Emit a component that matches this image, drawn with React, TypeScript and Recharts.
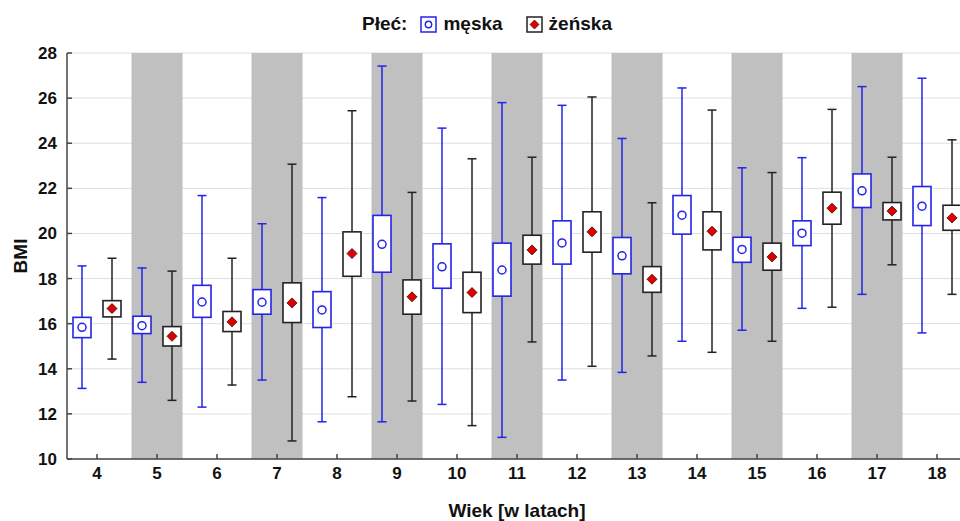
import React from 'react';
import { ComposedChart, Bar, XAxis, YAxis, CartesianGrid, ReferenceArea } from 'recharts';

const ages = [4, 5, 6, 7, 8, 9, 10, 11, 12, 13, 14, 15, 16, 17, 18];

// chłopcy (męska)
const maleMin = [13.13, 13.4, 12.3, 13.5, 11.65, 11.65, 12.42, 10.96, 13.5, 13.84, 15.22, 15.71, 16.68, 17.3, 15.59];
const maleQ1 = [15.38, 15.56, 16.28, 16.42, 15.83, 18.28, 17.57, 17.22, 18.64, 18.21, 19.97, 18.72, 19.46, 21.15, 20.35];
const maleMean = [15.84, 15.91, 16.96, 16.95, 16.61, 19.52, 18.52, 18.38, 19.58, 19.01, 20.81, 19.29, 20.01, 21.89, 21.21];
const maleQ3 = [16.28, 16.33, 17.7, 17.51, 17.42, 20.8, 19.54, 19.57, 20.56, 19.82, 21.68, 19.83, 20.56, 22.64, 22.08];
const maleMax = [18.56, 18.47, 21.68, 20.43, 21.59, 27.42, 24.67, 25.8, 25.68, 24.21, 26.45, 22.91, 23.36, 26.51, 26.88];

// dziewczęta (żeńska)
const femMin = [14.43, 12.6, 13.28, 10.8, 12.76, 12.57, 11.48, 15.19, 14.11, 14.57, 14.73, 15.22, 16.73, 18.61, 17.3];
const femQ1 = [16.3, 15.01, 15.65, 16.05, 18.1, 16.42, 16.49, 18.64, 19.17, 17.39, 19.27, 18.37, 20.41, 20.6, 20.14];
const femMean = [16.67, 15.44, 16.08, 16.92, 19.11, 17.19, 17.38, 19.27, 20.07, 17.97, 20.1, 18.96, 21.12, 20.99, 20.69];
const femQ3 = [17.02, 15.87, 16.54, 17.81, 20.07, 17.94, 18.28, 19.92, 20.96, 18.53, 20.96, 19.57, 21.83, 21.37, 21.25];
const femMax = [18.9, 18.33, 18.9, 23.07, 25.44, 21.82, 23.31, 23.38, 26.05, 21.36, 25.47, 22.7, 25.5, 23.38, 24.15];

const shadedAges = [5, 7, 9, 11, 13, 15, 17];
const yTicks = [10, 12, 14, 16, 18, 20, 22, 24, 26, 28];

const data = ages.map((age, i) => ({
  age: String(age),
  ageNum: age,
  m: [maleMin[i], maleMax[i]],
  f: [femMin[i], femMax[i]],
  mQ1: maleQ1[i], mQ3: maleQ3[i], mMean: maleMean[i],
  fQ1: femQ1[i], fQ3: femQ3[i], fMean: femMean[i],
}));

const BLUE = '#2323ea';
const DARK = '#222';
const FONT = "'Liberation Sans', Arial, sans-serif";

const BoxShape = (props: any) => {
  const { x, y, width, height, payload, kind } = props;
  if (height == null || !payload) return null;
  const lo = kind === 'm' ? payload.m[0] : payload.f[0];
  const hi = kind === 'm' ? payload.m[1] : payload.f[1];
  const q1 = kind === 'm' ? payload.mQ1 : payload.fQ1;
  const q3 = kind === 'm' ? payload.mQ3 : payload.fQ3;
  const mean = kind === 'm' ? payload.mMean : payload.fMean;
  const py = (v: number) => y + (height * (hi - v)) / (hi - lo);
  const cx = x + width / 2;
  const color = kind === 'm' ? BLUE : DARK;
  const cap = 4.5;
  return (
    <g>
      <line x1={cx} x2={cx} y1={y} y2={y + height} stroke={color} strokeWidth={1.5} />
      <line x1={cx - cap} x2={cx + cap} y1={y} y2={y} stroke={color} strokeWidth={1.5} />
      <line x1={cx - cap} x2={cx + cap} y1={y + height} y2={y + height} stroke={color} strokeWidth={1.5} />
      <rect x={x} y={py(q3)} width={width} height={py(q1) - py(q3)} fill="#fff" stroke={color} strokeWidth={1.6} />
      {kind === 'm' ? (
        <circle cx={cx} cy={py(mean)} r={4} fill="#fff" stroke={BLUE} strokeWidth={1.5} />
      ) : (
        <path
          d={`M${cx},${py(mean) - 5} L${cx + 5},${py(mean)} L${cx},${py(mean) + 5} L${cx - 5},${py(mean)} Z`}
          fill="#e00000"
          stroke="#400"
          strokeWidth={0.8}
        />
      )}
    </g>
  );
};

const YLabel = (props: any) => {
  const vb = props.viewBox || {};
  const cy = (vb.y || 0) + (vb.height || 0) / 2;
  return (
    <text x={27} y={cy} transform={`rotate(-90, 27, ${cy})`} textAnchor="middle" fontFamily={FONT} fontWeight="bold" fontSize={19} fill="#111">
      BMI
    </text>
  );
};

const LegendBlock = () => (
  <div style={{ position: 'absolute', left: 362, top: 13, display: 'flex', alignItems: 'center', fontFamily: FONT, fontWeight: 'bold', fontSize: 19, color: '#111' }}>
    <span style={{ marginRight: 13 }}>Płeć:</span>
    <svg width={17} height={17} style={{ marginRight: 6 }}>
      <rect x={1} y={1} width={15} height={15} fill="#fff" stroke={BLUE} strokeWidth={1.5} />
      <circle cx={8.5} cy={8.5} r={3.2} fill="#fff" stroke={BLUE} strokeWidth={1.4} />
    </svg>
    <span style={{ marginRight: 23 }}>męska</span>
    <svg width={17} height={17} style={{ marginRight: 6 }}>
      <rect x={1} y={1} width={15} height={15} fill="#fff" stroke={DARK} strokeWidth={1.5} />
      <path d="M8.5,4 L13,8.5 L8.5,13 L4,8.5 Z" fill="#e00000" stroke="#400" strokeWidth={0.7} />
    </svg>
    <span>żeńska</span>
  </div>
);

export default function App() {
  return (
    <div style={{ position: 'absolute', left: 0, top: 0, width: 960, height: 521, overflow: 'hidden', background: '#fff' }}>
      <LegendBlock />
      <ComposedChart
        width={1000}
        height={521}
        data={data}
        margin={{ top: 53, right: 33, bottom: 0, left: 0 }}
        barGap={12}
        barSize={18}
      >
        <CartesianGrid vertical={false} stroke="#dedede" xAxisId="cat" yAxisId="y" />
        <XAxis xAxisId="num" type="number" dataKey="ageNum" domain={[3.5, 18.5]} allowDataOverflow hide />
        {shadedAges.map((a) => (
          <ReferenceArea
            key={a}
            xAxisId="num"
            yAxisId="y"
            x1={a - 0.425}
            x2={a + 0.425}
            y1={10}
            y2={28}
            fill="#c0c0c0"
            fillOpacity={1}
            stroke="none"
            ifOverflow="visible"
          />
        ))}
        <XAxis
          xAxisId="cat"
          dataKey="age"
          height={62}
          tickSize={-5}
          tickMargin={13}
          stroke="#444"
          strokeWidth={1.5}
          tick={{ fontFamily: FONT, fontWeight: 'bold', fontSize: 17, fill: '#111' }}
          interval={0}
          label={{ value: 'Wiek [w latach]', position: 'insideBottom', offset: 4, fontFamily: FONT, fontWeight: 'bold', fontSize: 19, fill: '#111' }}
        />
        <XAxis
          xAxisId="top"
          dataKey="age"
          orientation="top"
          height={0}
          tickSize={-5}
          tickFormatter={() => ''}
          stroke="#444"
          strokeWidth={1.5}
          interval={0}
        />
        <YAxis
          yAxisId="y"
          domain={[10, 28]}
          ticks={yTicks}
          width={67}
          tickSize={-5}
          tickMargin={15}
          stroke="#444"
          strokeWidth={1.5}
          tick={{ fontFamily: FONT, fontWeight: 'bold', fontSize: 17, fill: '#111' }}
          label={<YLabel />}
        />
        <Bar xAxisId="cat" yAxisId="y" dataKey="m" isAnimationActive={false} shape={(p: any) => <BoxShape {...p} kind="m" />} />
        <Bar xAxisId="cat" yAxisId="y" dataKey="f" isAnimationActive={false} shape={(p: any) => <BoxShape {...p} kind="f" />} />
      </ComposedChart>
    </div>
  );
}
